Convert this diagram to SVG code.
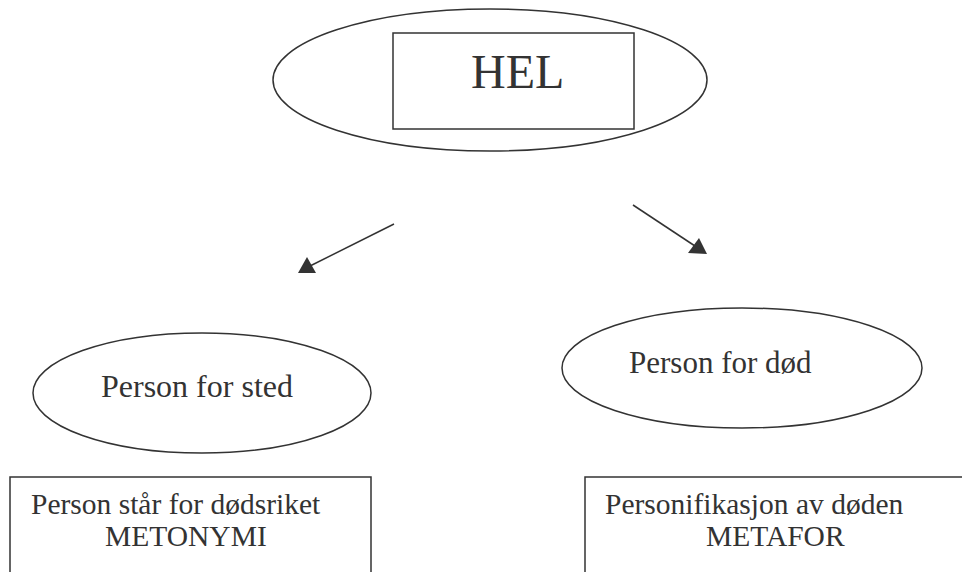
<svg xmlns="http://www.w3.org/2000/svg" width="962" height="572" viewBox="0 0 962 572">
<style>
.sh{fill:none;stroke:#333;stroke-width:1.5}
.ln{stroke:#333;stroke-width:1.5;fill:none}
.hd{fill:#333}
.t{font-family:"Liberation Serif","Times New Roman",serif;fill:#333}
</style>
<rect width="962" height="572" fill="#fff"/>
<g id="hel">
<ellipse class="sh" cx="490" cy="80" rx="217" ry="71"/>
<rect class="sh" x="393" y="33" width="241" height="96"/>
<text class="t" x="471" y="88" font-size="48">HEL</text>
</g>
<g id="connectors">
<path class="ln" d="M394,224 L306,268"/>
<path class="hd" d="M298,273 L316,273 L307,257 Z"/>
<path class="ln" d="M633,205 L698,248"/>
<path class="hd" d="M707,254 L688,253 L699,238 Z"/>
</g>
<g id="sted">
<ellipse class="sh" cx="202" cy="393" rx="169" ry="60"/>
<text class="t" x="101" y="397" font-size="32">Person for sted</text>
</g>
<g id="dod">
<ellipse class="sh" cx="742" cy="368" rx="180" ry="60"/>
<text class="t" x="629" y="373" font-size="31">Person for død</text>
</g>
<g id="metonymi">
<path class="sh" d="M10,572 V477 H371 V572"/>
<text class="t" x="31" y="514" font-size="29.5">Person står for dødsriket</text>
<text class="t" x="105" y="546" font-size="29.5">METONYMI</text>
</g>
<g id="metafor">
<path class="sh" d="M585,572 V477 H970"/>
<text class="t" x="605" y="514" font-size="29.5">Personifikasjon av døden</text>
<text class="t" x="706" y="546" font-size="29.5">METAFOR</text>
</g>
</svg>
